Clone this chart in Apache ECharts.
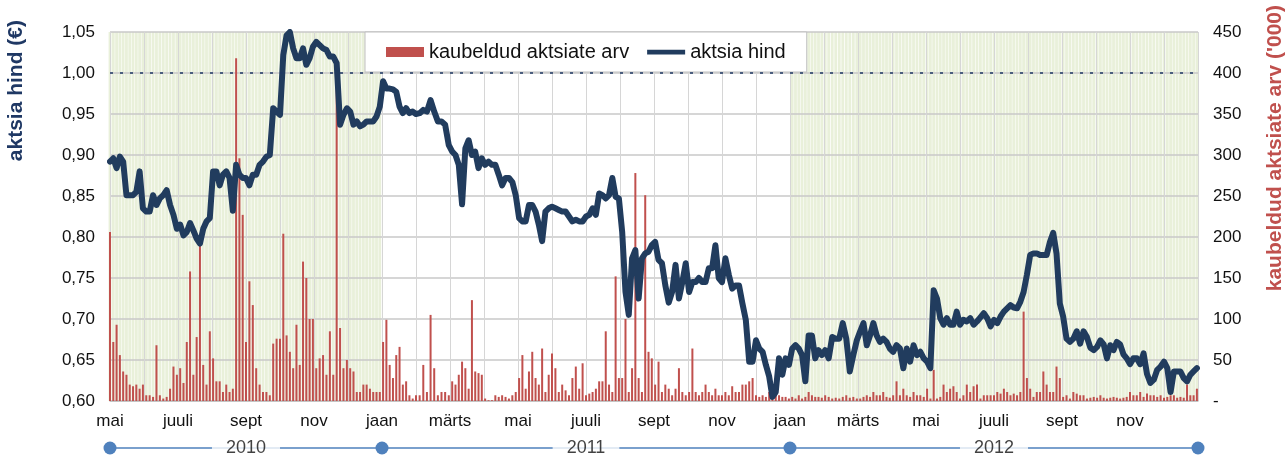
<!DOCTYPE html>
<html><head><meta charset="utf-8">
<script src="https://cdn.jsdelivr.net/npm/echarts@6/dist/echarts.min.js"></script>
<style>html,body{margin:0;padding:0;background:#fff}#c{width:1286px;height:457px}</style>
</head><body><div id="c"></div>
<script>
// ---- data ----
const startDate = [2010, 5, 1];   // first sample (y, m, d)
const stepDays = 3;               // calendar days between samples
const monthLabels = ['mai','','juuli','','sept','','nov','','jaan','','märts','','mai','','juuli','','sept','','nov','','jaan','','märts','','mai','','juuli','','sept','','nov','',''];
const years = ['2010','2011','2012'];
const yearBounds = ['2010-05-01','2011-01-01','2012-01-01','2013-01-01'];
const shadedPeriods = [['2010-05-01','2011-01-01'],['2012-01-01','2013-01-01']];
const priceTicks = [0.60,0.65,0.70,0.75,0.80,0.85,0.90,0.95,1.00,1.05];
const volumeTicks = [0,50,100,150,200,250,300,350,400,450];

const priceValues = [
0.892,0.896,0.884,0.898,0.892,0.851,0.851,0.851,0.855,0.880,
0.835,0.831,0.831,0.851,0.839,0.847,0.851,0.857,0.839,0.827,
0.810,0.815,0.802,0.806,0.817,0.808,0.798,0.792,0.810,0.819,
0.823,0.880,0.880,0.863,0.876,0.880,0.872,0.832,0.888,0.876,
0.872,0.872,0.863,0.876,0.876,0.888,0.892,0.898,0.900,0.957,
0.953,0.949,1.022,1.046,1.050,1.030,1.018,1.018,1.030,1.010,
1.018,1.032,1.038,1.034,1.030,1.028,1.020,1.020,1.012,0.937,
0.949,0.957,0.953,0.937,0.941,0.935,0.937,0.941,0.941,0.941,
0.947,0.959,0.990,
0.981,0.981,0.980,0.977,0.959,0.951,0.957,
0.951,0.953,0.950,0.951,0.955,0.953,0.967,0.953,0.941,0.941,
0.937,0.912,0.904,0.900,0.888,0.840,0.908,0.918,0.900,0.904,
0.884,0.896,0.888,0.892,0.888,0.888,0.876,0.863,0.872,0.872,
0.867,0.851,0.823,0.819,0.819,0.839,0.839,0.831,0.815,0.795,
0.831,0.835,0.837,0.835,0.833,0.831,0.831,0.825,0.819,0.821,
0.819,0.819,0.825,0.827,0.835,0.827,0.853,0.851,0.847,0.851,
0.872,0.849,0.847,0.806,0.733,0.705,0.774,0.784,0.725,0.774,
0.780,0.782,0.790,0.794,
0.772,0.768,0.741,0.720,0.733,0.766,
0.725,0.745,0.768,0.733,0.745,0.745,0.750,0.745,0.745,0.762,
0.762,0.790,0.750,0.745,0.774,0.754,0.737,0.741,0.741,0.719,
0.699,0.648,0.648,0.674,0.664,0.660,0.644,0.630,0.605,0.611,
0.652,0.632,0.652,0.644,0.664,0.668,0.664,0.656,0.624,0.680,
0.680,0.652,0.662,0.656,0.662,0.652,0.678,0.676,0.676,0.695,
0.676,0.636,0.656,0.674,0.685,0.695,0.668,0.680,0.695,0.680,
0.672,0.676,0.672,0.664,0.660,0.668,0.664,0.640,0.664,0.648,
0.668,0.656,0.660,0.652,
0.648,0.640,0.735,0.725,0.701,0.693,
0.701,0.693,0.693,0.709,0.693,0.699,0.697,0.701,0.693,0.697,
0.702,0.707,0.701,0.691,0.699,0.695,0.703,0.709,0.713,0.717,
0.714,0.713,0.721,0.733,0.754,0.778,0.780,0.780,0.778,0.778,
0.778,0.794,0.805,0.780,0.719,0.703,0.676,0.672,0.676,0.685,
0.670,0.685,0.678,0.665,0.662,0.666,0.674,0.669,0.652,0.668,
0.662,0.672,0.669,0.657,0.652,0.645,0.652,0.652,0.645,0.658,
0.633,0.622,0.626,0.638,0.642,0.648,0.640,0.611,0.636,0.636,
0.636,0.628,0.624,0.632,0.636,0.640
];

const volumeValues = [
206,72,93,56,36,32,20,18,20,15,
20,7,7,5,68,7,3,5,15,42,
32,40,22,72,158,32,78,190,44,20,
85,52,24,24,11,20,11,15,418,296,
227,72,146,117,40,20,11,11,7,70,
76,76,204,80,60,40,93,44,170,150,
100,100,40,52,56,32,85,32,400,89,
40,50,40,36,11,11,20,20,15,11,
11,11,72,
99,44,28,56,66,20,24,
7,3,7,7,44,11,105,40,7,11,
11,7,24,20,32,48,40,15,123,36,
34,32,3,1,1,7,5,7,5,3,
7,11,28,56,15,36,60,28,20,64,
11,32,58,40,11,20,13,7,28,42,
15,46,7,9,11,15,24,24,85,20,
11,152,28,28,100,11,40,278,28,11,
251,60,52,20,
48,11,20,15,7,15,
40,11,7,11,64,11,7,11,20,11,
7,15,7,7,11,7,18,11,11,20,
20,24,28,7,5,7,5,11,15,11,
7,5,5,3,5,3,7,3,5,11,
7,5,5,4,7,5,3,4,3,5,
7,4,5,3,3,5,7,5,11,7,
7,11,5,4,7,24,7,15,7,5,
11,7,7,5,
15,3,38,3,5,20,
11,15,18,11,3,7,20,11,18,20,
3,7,7,7,7,11,9,15,11,7,
9,7,11,109,28,15,5,11,11,36,
20,11,11,42,28,5,7,3,11,9,
7,7,3,4,5,4,7,4,3,4,
5,4,3,4,5,11,7,7,11,5,
9,7,7,5,7,4,5,7,7,4,
5,4,20,7,7,15
];

// ---- helpers ----
function monthPosUTC(d) {
  const y = d.getUTCFullYear(), m = d.getUTCMonth(), day = d.getUTCDate();
  const dim = new Date(Date.UTC(y, m + 1, 0)).getUTCDate();
  return (y - 2010) * 12 + m - 4 + (day - 1) / dim;
}
function monthPosStr(s) { const p = s.split('-').map(Number); return monthPosUTC(new Date(Date.UTC(p[0], p[1]-1, p[2]))); }
const t0 = Date.UTC(startDate[0], startDate[1]-1, startDate[2]);
const sampleX = priceValues.map((_, i) => monthPosUTC(new Date(t0 + i * stepDays * 86400000)));
const priceData = priceValues.map((v, i) => [sampleX[i], v]);
const volumeData = volumeValues.map((v, i) => [sampleX[i], v]);
const shadeRanges = shadedPeriods.map(p => [monthPosStr(p[0]), monthPosStr(p[1])]);
const stripeData = sampleX.filter(x => shadeRanges.some(r => x >= r[0] && x < r[1])).map(x => [x, volumeTicks[volumeTicks.length-1]]);
const boundX = yearBounds.map(monthPosStr);
const xMax = boundX[boundX.length-1];
const timelineData = boundX.map(x => [x, 0.5]);
const yearData = years.map((y, i) => ({ value: [(boundX[i] + boundX[i+1]) / 2, 0.5], name: y }));

const FONT = '"Liberation Sans", Arial, sans-serif';
const NAVY = '#213c5e', RED = '#c0504d', BLUE = '#4f81bd';

const chart = echarts.init(document.getElementById('c'), null, { renderer: 'canvas' });
chart.setOption({
  animation: false,
  textStyle: { fontFamily: FONT },
  grid: [
    { left: 110, right: 88, top: 32, bottom: 56 },
    { left: 110, right: 88, top: 440, height: 16 }
  ],
  legend: {
    left: 365, top: 32, padding: [10, 21], itemGap: 18, itemWidth: 38, itemHeight: 10,
    backgroundColor: '#fff', borderColor: '#bfbfbf', borderWidth: 1,
    textStyle: { fontSize: 20, color: '#111', fontFamily: FONT },
    data: [
      { name: 'kaubeldud aktsiate arv', icon: 'rect' },
      { name: 'aktsia hind', icon: 'path://M0,0H40V5H0Z' }
    ]
  },
  xAxis: [
    { gridIndex: 0, type: 'value', min: 0, max: xMax, interval: 1,
      axisLine: { show: true, lineStyle: { color: '#bfbfbf', width: 1.5 } },
      axisTick: { show: false },
      axisLabel: { fontSize: 17, color: '#111', margin: 12, fontFamily: FONT,
        formatter: v => monthLabels[Math.round(v)] || '' },
      splitLine: { show: true, lineStyle: { color: '#d6d6d6', width: 1 } } },
    { gridIndex: 1, type: 'value', min: 0, max: xMax, show: false },
    { gridIndex: 0, type: 'value', min: 0, max: xMax, show: false }
  ],
  yAxis: [
    { gridIndex: 0, type: 'value', min: priceTicks[0], max: priceTicks[priceTicks.length-1], interval: 0.05,
      axisLine: { show: false }, axisTick: { show: false },
      axisLabel: { fontSize: 17, color: '#111', margin: 15, fontFamily: FONT,
        formatter: v => v.toFixed(2).replace('.', ',') },
      splitLine: { show: true, lineStyle: { color: '#c8c8c8', width: 1.5 } } },
    { gridIndex: 0, type: 'value', position: 'right', min: volumeTicks[0], max: volumeTicks[volumeTicks.length-1], interval: 50,
      axisLine: { show: false }, axisTick: { show: false },
      axisLabel: { fontSize: 17, color: '#111', margin: 15, fontFamily: FONT,
        formatter: v => v === 0 ? '-' : String(v) },
      splitLine: { show: false } },
    { gridIndex: 1, type: 'value', min: 0, max: 1, show: false }
  ],
  series: [
    { type: 'bar', name: 'stripes', xAxisIndex: 2, yAxisIndex: 1, data: stripeData,
      barWidth: 2.8, itemStyle: { color: '#e9f0da' }, silent: true, z: -1 },
    { type: 'bar', name: 'kaubeldud aktsiate arv', xAxisIndex: 0, yAxisIndex: 1, data: volumeData,
      barWidth: 2, itemStyle: { color: RED }, z: 2 },
    { type: 'line', name: 'aktsia hind', xAxisIndex: 0, yAxisIndex: 0, data: priceData,
      symbol: 'none', lineStyle: { color: NAVY, width: 6, join: 'round', cap: 'round' },
      itemStyle: { color: NAVY }, z: 3,
      markLine: { silent: true, symbol: ['none','none'], label: { show: false },
        lineStyle: { color: '#1f3864', type: [3, 7], width: 1.5 },
        data: [{ yAxis: 1.0 }] } },
    { type: 'line', name: 'timeline', xAxisIndex: 1, yAxisIndex: 2, data: timelineData,
      symbol: 'circle', symbolSize: 13, clip: false, silent: true,
      lineStyle: { color: BLUE, width: 1.5 }, itemStyle: { color: BLUE }, z: 2 },
    { type: 'scatter', name: 'years', xAxisIndex: 1, yAxisIndex: 2, data: yearData,
      symbolSize: 1, itemStyle: { color: 'rgba(0,0,0,0)' }, silent: true, z: 4,
      label: { show: true, position: 'inside', formatter: p => p.name, fontSize: 18, color: '#111',
        backgroundColor: '#fff', padding: [2, 14], fontFamily: FONT } }
  ],
  graphic: [
    { type: 'text', left: 6, top: 20, rotation: Math.PI / 2,
      style: { text: 'aktsia hind (€)', font: 'bold 21px ' + FONT, fill: '#1f3864' } },
    { type: 'text', left: 1265, top: 5, rotation: Math.PI / 2,
      style: { text: "kaubeldud aktsiate arv ('000)", font: 'bold 21px ' + FONT, fill: RED } }
  ]
});
</script></body></html>
